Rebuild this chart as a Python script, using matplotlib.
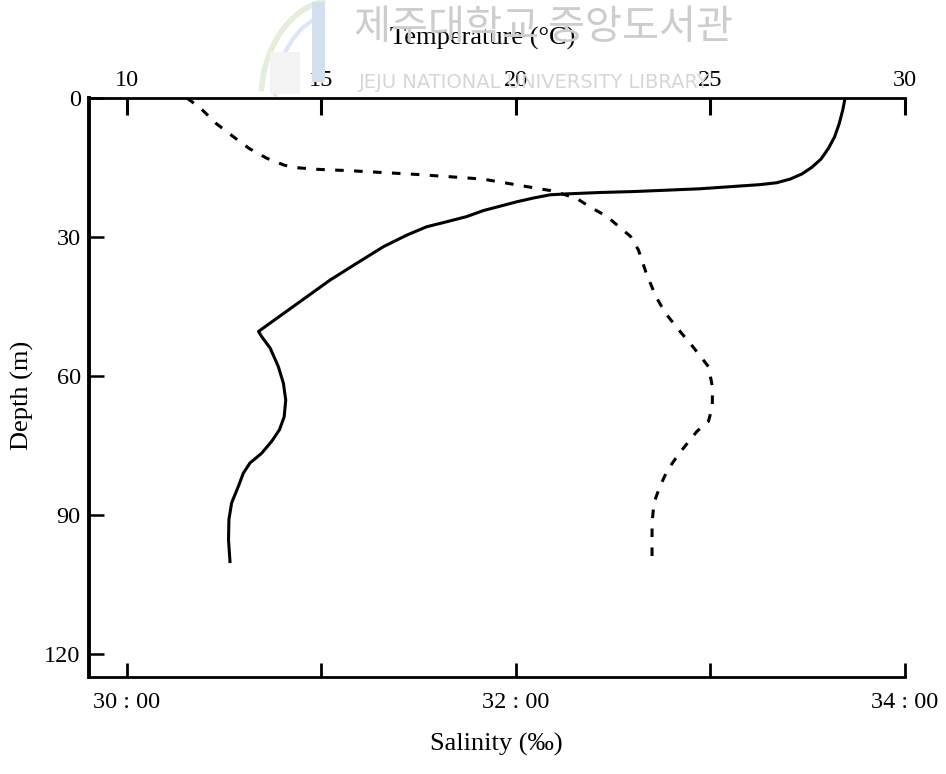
import numpy as np
import matplotlib
matplotlib.use("Agg")
import matplotlib.pyplot as plt
from matplotlib.patches import Rectangle, Arc

plt.rcParams['font.family'] = ['Liberation Serif', 'DejaVu Serif']

# Temperature profile (solid line)
temp_depth = [0, 2.6, 5.5, 8.4, 10.9, 13.2, 15.0, 16.4, 17.5, 18.3, 18.7, 19.1,
              19.6, 19.9, 20.2, 20.4, 20.7, 20.9, 21.6, 22.4, 24.3, 25.6, 26.9,
              27.8, 29.6, 32.1, 35.7, 39.3, 50.4, 51.5, 54.0, 58.0, 61.6, 65.2,
              68.8, 71.6, 74.1, 76.7, 78.8, 81.0, 83.9, 87.4, 91.0, 95.4, 100.4]
temp_vals = [28.46, 28.40, 28.31, 28.19, 28.03, 27.84, 27.60, 27.35, 27.05, 26.70, 26.28, 25.59,
             24.73, 23.88, 23.02, 22.17, 21.31, 20.88, 20.45, 20.03, 19.17, 18.74, 18.14,
             17.71, 17.20, 16.60, 15.91, 15.23, 13.39, 13.47, 13.69, 13.90, 14.03, 14.09,
             14.05, 13.93, 13.73, 13.47, 13.17, 13.00, 12.87, 12.70, 12.63, 12.62, 12.66]

# Salinity profile (dashed line)
sal_depth = [0, 2.2, 5.5, 8.4, 10.9, 13.0, 14.5, 15.0, 15.4, 15.7, 16.1, 16.5,
             17.0, 17.5, 18.8, 20.0, 21.6, 23.5, 25.6, 27.8, 29.9, 32.8, 37.8,
             42.9, 46.5, 49.7, 53.7, 58.0, 62.3, 66.6, 69.8, 72.0, 76.7, 80.3,
             83.9, 87.4, 91.8, 99.7]
sal_vals = [30.31, 30.38, 30.46, 30.55, 30.63, 30.72, 30.81, 30.86, 30.98, 31.15, 31.32, 31.49,
            31.66, 31.83, 32.01, 32.18, 32.31, 32.38, 32.47, 32.53, 32.59, 32.63, 32.67,
            32.72, 32.77, 32.83, 32.91, 32.99, 33.01, 33.01, 32.99, 32.93, 32.84, 32.78,
            32.74, 32.71, 32.70, 32.70]

temp_ticks = [10, 15, 20, 25, 30]
sal_ticks = [30, 31, 32, 33, 34]
sal_ticklabels = ['30 : 00', '', '32 : 00', '', '34 : 00']
depth_ticks = [0, 30, 60, 90, 120]

W, H = 946, 774
fig = plt.figure(figsize=(W / 100, H / 100), dpi=100)


def px(x, y):
    # pixel position from the top-left corner -> figure fraction
    return x / W, 1 - y / H


# faint library stamp along the top edge
fig.add_artist(Arc(px(336, 100), 150 / W, 200 / H, theta1=95, theta2=172,
                   transform=fig.transFigure, color='#e4eedb', lw=4))
fig.add_artist(Arc(px(336, 100), 122 / W, 172 / H, theta1=100, theta2=176,
                   transform=fig.transFigure, color='#dde7f4', lw=3))
fig.add_artist(Rectangle(px(312, 82), 13 / W, 80 / H, transform=fig.transFigure,
                         color='#d3deef', lw=0))
fig.add_artist(Rectangle(px(270, 94), 30 / W, 42 / H, transform=fig.transFigure,
                         color='#f3f3f3', lw=0))
fig.text(*px(543, 27), '제주대학교 중앙도서관', family='Noto Sans CJK KR',
         fontsize=29, color='#cdcdcd', ha='center', va='center')
fig.text(*px(534, 82), 'JEJU NATIONAL UNIVERSITY LIBRARY', family='DejaVu Sans',
         fontsize=14, color='#d6d6d6', ha='center', va='center')

ax = fig.add_axes([0.0941, 0.1253, 0.8626, 0.7481])
ax.patch.set_alpha(0)
ax.set_xlim(29.807, 34)
ax.set_ylim(125, 0)

ax_t = ax.twiny()
ax_t.set_xlim(9.036, 30)

ax_t.plot(temp_vals, temp_depth, color='black', lw=2.2, solid_capstyle='butt',
          solid_joinstyle='round')
ax.plot(sal_vals, sal_depth, color='black', lw=2.2, dashes=(2.8, 3.4),
        dash_capstyle='butt')

for a in (ax, ax_t):
    for s in a.spines.values():
        s.set_visible(False)
ax.spines['left'].set_visible(True)
ax.spines['left'].set_linewidth(2.8)
ax.spines['bottom'].set_visible(True)
ax.spines['bottom'].set_linewidth(2.0)
ax_t.spines['top'].set_visible(True)
ax_t.spines['top'].set_linewidth(2.0)

ax_t.set_xticks(temp_ticks)
ax_t.tick_params(axis='x', direction='in', length=12, width=2.2, pad=5, labelsize=17.5)

ax.set_xticks(sal_ticks)
ax.set_xticklabels(sal_ticklabels)
ax.tick_params(axis='x', direction='in', length=10, width=2.0, pad=11, labelsize=17.5)

ax.set_yticks(depth_ticks)
ax.tick_params(axis='y', direction='in', length=11, width=1.8, pad=6, labelsize=17.5)

ax_t.set_xlabel('Temperature (°C)', fontsize=19)
ax_t.xaxis.set_label_coords(0.483, 1.102)
ax_t.xaxis.label.set_va('center')

ax.set_xlabel('Salinity (‰)', fontsize=19)
ax.xaxis.set_label_coords(0.499, -0.116)
ax.xaxis.label.set_va('center')

ax.set_ylabel('Depth (m)', fontsize=19)
ax.yaxis.set_label_coords(-0.082, 0.487)
ax.yaxis.label.set_va('center')

fig.savefig('out.png', dpi=100)
